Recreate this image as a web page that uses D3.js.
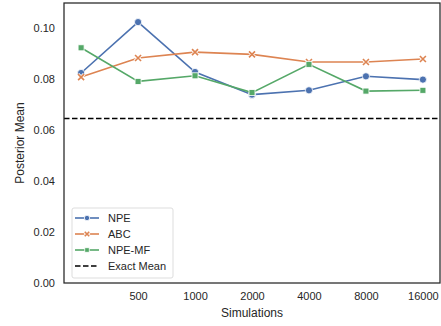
<!DOCTYPE html>
<html>
<head>
<meta charset="utf-8">
<script src="https://d3js.org/d3.v7.min.js"></script>
<style>
  body { margin: 0; background: #fff; }
  svg text { font-family: 'Liberation Sans', Arial, sans-serif; fill: #262626; }
</style>
</head>
<body>
<script>
// data
var simulations = [250, 500, 1000, 2000, 4000, 8000, 16000];
var tickValues = [500, 1000, 2000, 4000, 8000, 16000];
var yTicks = [0, 0.02, 0.04, 0.06, 0.08, 0.10];
var npe = [0.0825, 0.1025, 0.0829, 0.0740, 0.0757, 0.0812, 0.0799];
var abc = [0.0809, 0.0884, 0.0907, 0.0898, 0.0868, 0.0868, 0.0880];
var npeMf = [0.0924, 0.0792, 0.0814, 0.0748, 0.0859, 0.0754, 0.0757];
var exactMean = 0.0646;

var width = 441, height = 326;
var margin = {top: 3, right: 1, bottom: 43, left: 64};

var svg = d3.select("body").append("svg")
    .attr("width", width)
    .attr("height", height);

var x = d3.scaleLog().base(2)
    .domain([250 / Math.pow(2, 0.3), 16000 * Math.pow(2, 0.3)])
    .range([margin.left, width - margin.right]);

var y = d3.scaleLinear()
    .domain([0, 0.11])
    .range([height - margin.bottom, margin.top]);

// axes (no tick marks, seaborn white style)
svg.append("g")
    .attr("transform", "translate(0," + (height - margin.bottom) + ")")
    .call(d3.axisBottom(x).tickValues(tickValues).tickSize(0).tickPadding(9).tickFormat(d3.format("d")))
    .call(function(g) { g.select(".domain").remove(); })
    .selectAll("text").style("font-size", "11px");

svg.append("g")
    .attr("transform", "translate(" + margin.left + ",0)")
    .call(d3.axisLeft(y).tickValues(yTicks).tickSize(0).tickPadding(9).tickFormat(d3.format(".2f")))
    .call(function(g) { g.select(".domain").remove(); })
    .selectAll("text").style("font-size", "11px");

// exact mean
svg.append("line")
    .attr("x1", margin.left).attr("x2", width - margin.right)
    .attr("y1", y(exactMean)).attr("y2", y(exactMean))
    .attr("stroke", "#000").attr("stroke-width", 1.5)
    .attr("stroke-dasharray", "5.5,2.5");

var series = [
  {name: "NPE", values: npe, color: "#4c72b0", marker: "circle"},
  {name: "ABC", values: abc, color: "#dd8452", marker: "x"},
  {name: "NPE-MF", values: npeMf, color: "#55a868", marker: "square"}
];

var line = d3.line()
    .x(function(d, i) { return x(simulations[i]); })
    .y(function(d) { return y(d); });

function drawMarker(g, type, color, cx, cy, s) {
  if (type === "circle") {
    g.append("circle").attr("cx", cx).attr("cy", cy).attr("r", 3.6 * s)
      .attr("fill", color).attr("stroke", "#fff").attr("stroke-width", 0.8);
  } else if (type === "square") {
    g.append("rect").attr("x", cx - 3 * s).attr("y", cy - 3 * s)
      .attr("width", 6 * s).attr("height", 6 * s)
      .attr("fill", color).attr("stroke", "#fff").attr("stroke-width", 0.8);
  } else {
    var r = 3 * s;
    var p = "M" + (cx - r) + "," + (cy - r) + "L" + (cx + r) + "," + (cy + r) +
            "M" + (cx - r) + "," + (cy + r) + "L" + (cx + r) + "," + (cy - r);
    g.append("path").attr("d", p).attr("stroke", "#fff").attr("stroke-width", 3.2);
    g.append("path").attr("d", p).attr("stroke", color).attr("stroke-width", 1.6);
  }
}

series.forEach(function(s) {
  svg.append("path")
      .datum(s.values)
      .attr("fill", "none")
      .attr("stroke", s.color)
      .attr("stroke-width", 1.6)
      .attr("d", line);
  var g = svg.append("g");
  s.values.forEach(function(v, i) {
    drawMarker(g, s.marker, s.color, x(simulations[i]), y(v), 1);
  });
});

// frame
svg.append("rect")
    .attr("x", margin.left).attr("y", margin.top)
    .attr("width", width - margin.left - margin.right)
    .attr("height", height - margin.top - margin.bottom)
    .attr("fill", "none").attr("stroke", "#262626").attr("stroke-width", 1.25);

// axis titles
svg.append("text")
    .attr("x", (margin.left + width - margin.right) / 2)
    .attr("y", 317)
    .attr("text-anchor", "middle")
    .style("font-size", "12px")
    .text("Simulations");

svg.append("text")
    .attr("transform", "translate(24," + ((margin.top + height - margin.bottom) / 2) + ") rotate(-90)")
    .attr("text-anchor", "middle")
    .style("font-size", "12px")
    .text("Posterior Mean");

// legend
var legend = svg.append("g").attr("transform", "translate(72,208)");
legend.append("rect")
    .attr("width", 101).attr("height", 70).attr("rx", 2)
    .attr("fill", "#fff").attr("fill-opacity", 0.8)
    .attr("stroke", "#ddd").attr("stroke-width", 1);

var legendItems = series.map(function(s) { return {name: s.name, color: s.color, marker: s.marker, dash: null}; })
    .concat([{name: "Exact Mean", color: "#000", marker: null, dash: "5.5,2.5"}]);

legendItems.forEach(function(d, i) {
  var ly = 10 + i * 16;
  legend.append("line")
      .attr("x1", 3).attr("x2", 27).attr("y1", ly).attr("y2", ly)
      .attr("stroke", d.color).attr("stroke-width", 1.6)
      .attr("stroke-dasharray", d.dash);
  if (d.marker) drawMarker(legend, d.marker, d.color, 15, ly, 0.75);
  legend.append("text")
      .attr("x", 36).attr("y", ly + 4)
      .style("font-size", "11px")
      .text(d.name);
});
</script>
</body>
</html>
